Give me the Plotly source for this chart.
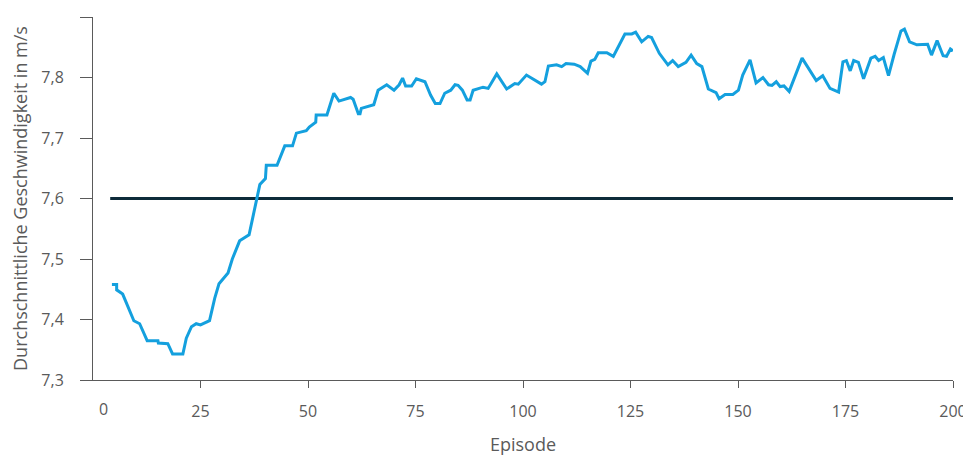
import plotly.graph_objects as go

# Data
episode = [4.4, 5.5, 5.5, 6.9, 9.5, 10.85, 12.6, 15.1, 15.2, 17.4, 18.5, 20.9, 21.7, 22.9, 24.0,
           25.0, 27.1, 28.3, 29.3, 31.4, 32.4, 34.1, 36.3, 38.8, 40.1, 40.3, 42.8, 44.6, 46.4,
           47.3, 49.6, 50.3, 51.8, 51.9, 54.4, 56.0, 57.2, 59.9, 60.5, 61.7, 62.1, 62.4, 65.3,
           66.3, 68.3, 70.0, 71.2, 72.0, 72.7, 74.1, 75.2, 77.2, 78.5, 79.6, 80.7, 81.8, 83.2,
           84.2, 84.9, 85.9, 87.0, 87.7, 88.4, 90.7, 91.9, 93.9, 96.2, 98.1, 98.9, 100.8, 104.3,
           105.1, 105.9, 107.8, 109.0, 110.0, 111.9, 113.3, 115.0, 115.8, 116.7, 117.5, 119.5,
           121.0, 123.7, 125.3, 126.2, 127.6, 129.1, 129.9, 131.7, 133.7, 134.8, 136.1, 137.9,
           139.1, 140.4, 141.6, 143.1, 144.9, 145.6, 147.0, 148.8, 150.1, 151.1, 152.8, 154.2,
           155.8, 157.1, 157.9, 158.9, 159.8, 160.7, 161.9, 164.9, 168.2, 169.7, 171.4, 173.4,
           174.4, 175.2, 176.1, 176.9, 178.0, 179.2, 180.9, 181.9, 182.7, 183.8, 185.0, 186.3,
           187.9, 188.7, 189.9, 191.6, 194.1, 195.0, 196.3, 197.7, 198.5, 199.4, 200.0]
speed = [7.458, 7.458, 7.449, 7.442, 7.398, 7.393, 7.365, 7.365, 7.361, 7.360, 7.343, 7.343,
         7.369, 7.388, 7.393, 7.391, 7.398, 7.435, 7.459, 7.477, 7.500, 7.530, 7.540, 7.623,
         7.633, 7.655, 7.655, 7.687, 7.687, 7.708, 7.712, 7.718, 7.726, 7.738, 7.738, 7.774,
         7.761, 7.767, 7.764, 7.740, 7.740, 7.749, 7.755, 7.779, 7.788, 7.779, 7.788, 7.799,
         7.786, 7.786, 7.798, 7.793, 7.771, 7.757, 7.757, 7.774, 7.779, 7.788, 7.787, 7.779,
         7.763, 7.763, 7.779, 7.784, 7.782, 7.806, 7.781, 7.790, 7.789, 7.804, 7.789, 7.793,
         7.819, 7.821, 7.818, 7.823, 7.822, 7.818, 7.807, 7.827, 7.830, 7.841, 7.841, 7.835,
         7.872, 7.872, 7.875, 7.859, 7.868, 7.866, 7.840, 7.821, 7.828, 7.818, 7.825, 7.837,
         7.823, 7.818, 7.781, 7.775, 7.765, 7.772, 7.772, 7.779, 7.804, 7.829, 7.791, 7.800,
         7.788, 7.787, 7.793, 7.785, 7.786, 7.777, 7.832, 7.795, 7.803, 7.782, 7.776, 7.826,
         7.828, 7.811, 7.828, 7.825, 7.798, 7.832, 7.835, 7.828, 7.833, 7.803, 7.838, 7.877,
         7.880, 7.859, 7.854, 7.855, 7.837, 7.861, 7.836, 7.835, 7.847, 7.844]

reference_x = [4, 200]
reference_y = [7.6, 7.6]

x_ticks = [0, 25, 50, 75, 100, 125, 150, 175, 200]
y_ticks = [7.3, 7.4, 7.5, 7.6, 7.7, 7.8, 7.9]

FONT = "Open Sans"
GREY = "#5a5a5a"
TICK_SIZE = 16

fig = go.Figure()
fig.add_trace(go.Scatter(x=reference_x, y=reference_y, mode="lines",
                         line=dict(color="#0d2b3a", width=3), hoverinfo="skip"))
fig.add_trace(go.Scatter(x=episode, y=speed, mode="lines",
                         line=dict(color="#14a0de", width=3)))

# the page body has an 8px margin, so the figure is sized/margined to compensate
fig.update_layout(
    width=963, height=448,
    margin=dict(l=85, r=18, t=9, b=76),
    paper_bgcolor="white", plot_bgcolor="white",
    showlegend=False,
    separators=",.",
    font=dict(family=FONT, size=TICK_SIZE, color=GREY),
    xaxis=dict(range=[0, 200], showgrid=False, zeroline=False, automargin=False,
               showline=True, linecolor=GREY, linewidth=1,
               ticks="outside", ticklen=7, tickcolor=GREY, tickwidth=1,
               tickvals=x_ticks[1:], ticktext=[str(v) for v in x_ticks[1:]],
               ticklabelstandoff=10,
               tickfont=dict(family=FONT, size=TICK_SIZE, color=GREY),
               title=dict(text="Episode", font=dict(family=FONT, size=18, color=GREY),
                          standoff=23)),
    yaxis=dict(range=[7.3, 7.9], showgrid=False, zeroline=False, automargin=False,
               showline=True, linecolor=GREY, linewidth=1,
               ticks="outside", ticklen=12, tickcolor=GREY, tickwidth=1,
               tickvals=y_ticks, tickformat=".1f",
               ticklabelstandoff=13,
               tickfont=dict(family=FONT, size=TICK_SIZE, color=GREY),
               title=dict(text="Durchschnittliche Geschwindigkeit in m/s",
                          font=dict(family=FONT, size=18, color=GREY), standoff=14)),
)

fig.add_annotation(x=x_ticks[0], y=0, xref="x", yref="paper", text=str(x_ticks[0]),
                   showarrow=False, xanchor="center", yanchor="top", xshift=10, yshift=-16,
                   font=dict(family=FONT, size=TICK_SIZE, color=GREY))

fig.write_html("out.html")
